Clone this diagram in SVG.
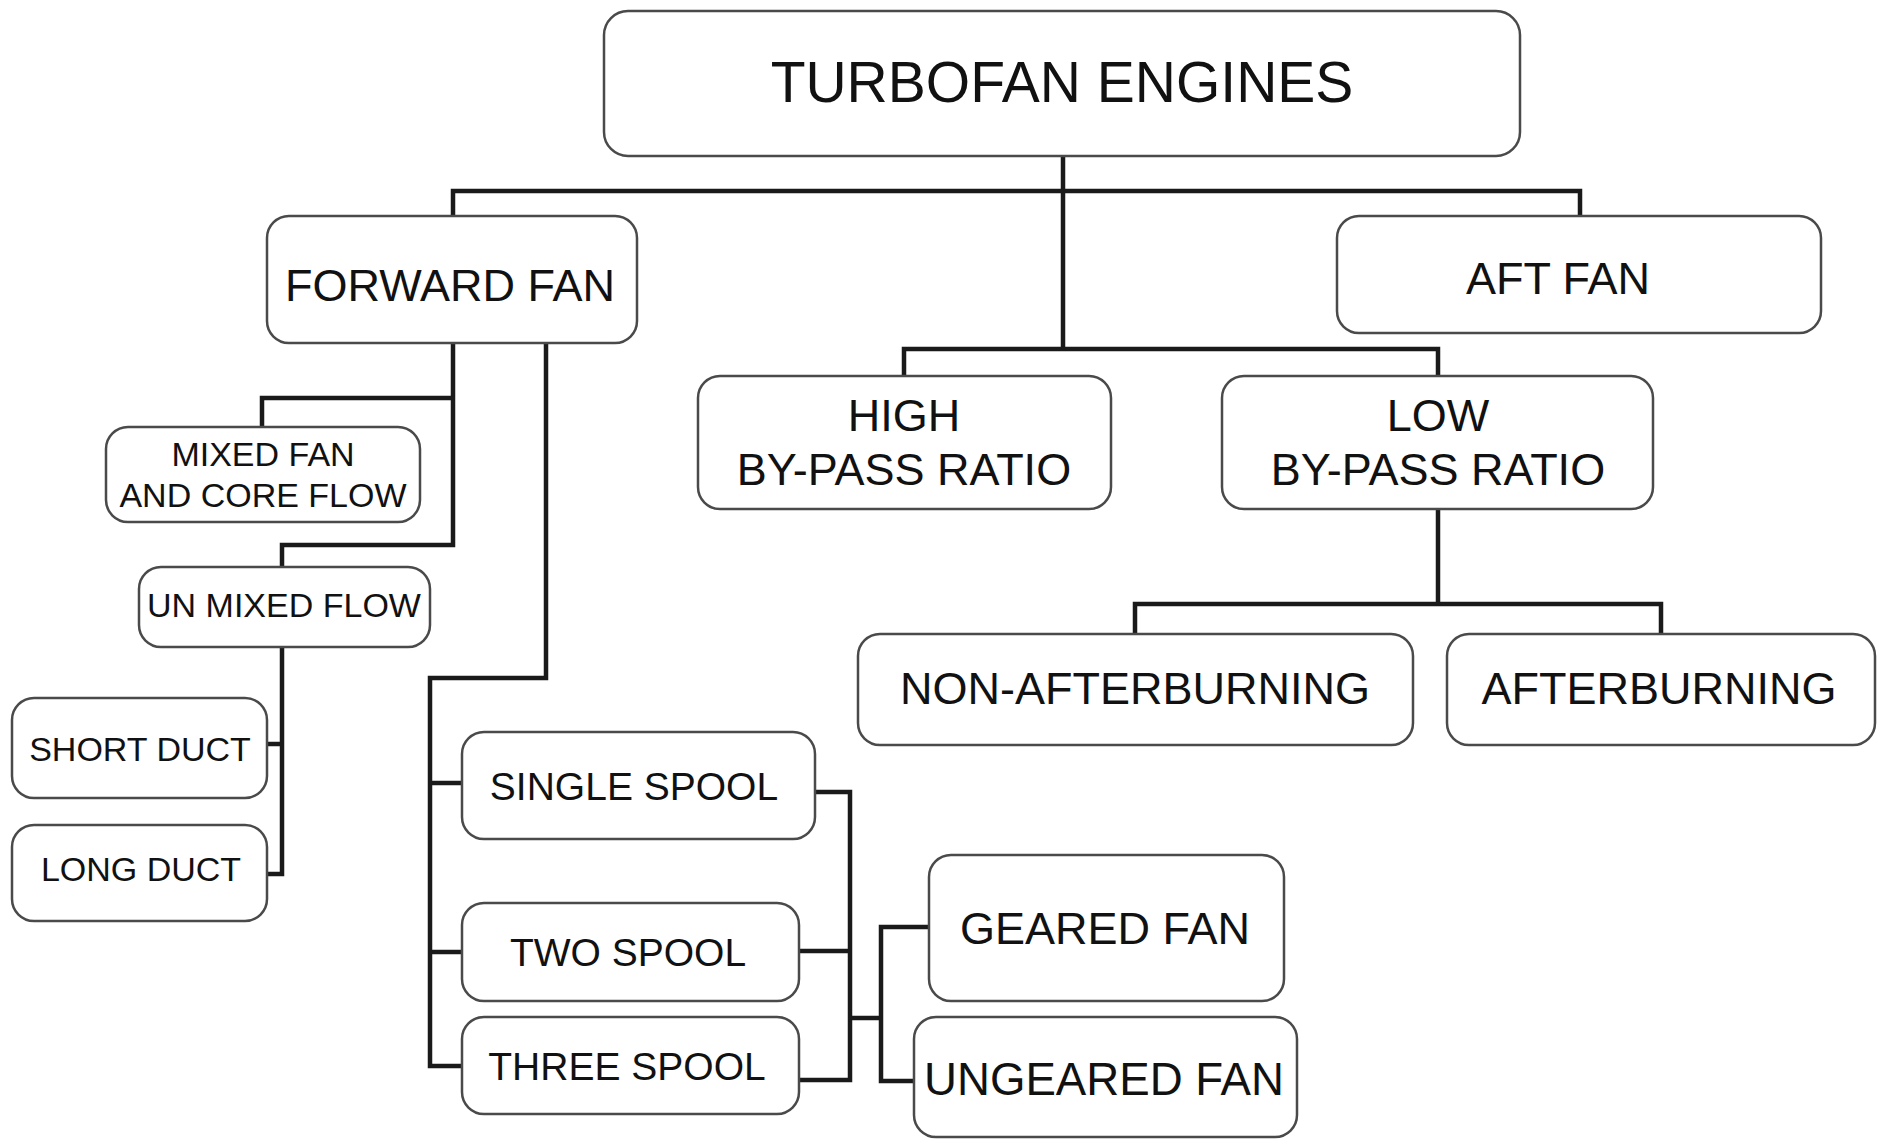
<svg xmlns="http://www.w3.org/2000/svg" width="1877" height="1139" viewBox="0 0 1877 1139">
<style>
.box{fill:#fff;stroke:#4a4a4a;stroke-width:2.5}
.t{font-family:"Liberation Sans",Arial,sans-serif;fill:#111;text-anchor:middle}
.conn{fill:none;stroke:#1a1a1a;stroke-width:4.5;stroke-linejoin:miter}
</style>
<rect width="1877" height="1139" fill="#fff"/>
<g id="connectors" class="conn">
<path d="M1063 156 V349"/>
<path d="M453 216 V191 H1580 V216"/>
<path d="M904 376 V349 H1438 V376"/>
<path d="M1438 509 V604"/>
<path d="M1135 634 V604 H1661 V634"/>
<path d="M453 343 V545 H282 V567"/>
<path d="M453 398 H262 V427"/>
<path d="M282 647 V874 H267"/>
<path d="M282 744 H267"/>
<path d="M546 343 V678 H430 V1066 H462"/>
<path d="M430 783 H462"/>
<path d="M430 952 H462"/>
<path d="M815 792 H850 V1080 H799"/>
<path d="M799 951 H850"/>
<path d="M850 1018 H881"/>
<path d="M929 927 H881 V1081 H914"/>
</g>
<g id="turbofan"><rect class="box" x="604" y="11" width="916" height="145" rx="24"/><text class="t" x="1062" y="102" font-size="57">TURBOFAN ENGINES</text></g>
<g id="forward-fan"><rect class="box" x="267" y="216" width="370" height="127" rx="22"/><text class="t" x="450" y="301" font-size="45">FORWARD FAN</text></g>
<g id="aft-fan"><rect class="box" x="1337" y="216" width="484" height="117" rx="22"/><text class="t" x="1558" y="294" font-size="45">AFT FAN</text></g>
<g id="high-bpr"><rect class="box" x="698" y="376" width="413" height="133" rx="22"/><text class="t" x="904" y="431" font-size="45">HIGH</text><text class="t" x="904" y="485" font-size="45">BY-PASS RATIO</text></g>
<g id="low-bpr"><rect class="box" x="1222" y="376" width="431" height="133" rx="22"/><text class="t" x="1438" y="431" font-size="45">LOW</text><text class="t" x="1438" y="485" font-size="45">BY-PASS RATIO</text></g>
<g id="non-afterburning"><rect class="box" x="858" y="634" width="555" height="111" rx="22"/><text class="t" x="1135" y="704" font-size="45">NON-AFTERBURNING</text></g>
<g id="afterburning"><rect class="box" x="1447" y="634" width="428" height="111" rx="22"/><text class="t" x="1659" y="704" font-size="45">AFTERBURNING</text></g>
<g id="mixed-fan"><rect class="box" x="106" y="427" width="314" height="95" rx="22"/><text class="t" x="263" y="466" font-size="34">MIXED FAN</text><text class="t" x="263" y="507" font-size="34">AND CORE FLOW</text></g>
<g id="unmixed-flow"><rect class="box" x="139" y="567" width="291" height="80" rx="22"/><text class="t" x="284" y="617" font-size="34">UN MIXED FLOW</text></g>
<g id="short-duct"><rect class="box" x="12" y="698" width="255" height="100" rx="22"/><text class="t" x="140" y="761" font-size="34">SHORT DUCT</text></g>
<g id="long-duct"><rect class="box" x="12" y="825" width="255" height="96" rx="22"/><text class="t" x="141" y="881" font-size="34">LONG DUCT</text></g>
<g id="single-spool"><rect class="box" x="462" y="732" width="353" height="107" rx="22"/><text class="t" x="634" y="800" font-size="39">SINGLE SPOOL</text></g>
<g id="two-spool"><rect class="box" x="462" y="903" width="337" height="98" rx="22"/><text class="t" x="628" y="966" font-size="39">TWO SPOOL</text></g>
<g id="three-spool"><rect class="box" x="462" y="1017" width="337" height="97" rx="22"/><text class="t" x="627" y="1080" font-size="39">THREE SPOOL</text></g>
<g id="geared-fan"><rect class="box" x="929" y="855" width="355" height="146" rx="22"/><text class="t" x="1105" y="944" font-size="45">GEARED FAN</text></g>
<g id="ungeared-fan"><rect class="box" x="914" y="1017" width="383" height="120" rx="22"/><text class="t" x="1104" y="1095" font-size="46" textLength="360" lengthAdjust="spacingAndGlyphs">UNGEARED FAN</text></g>
</svg>
